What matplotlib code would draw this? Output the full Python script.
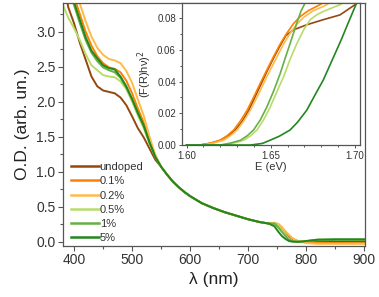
import matplotlib
matplotlib.use("Agg")
import matplotlib.pyplot as plt
from matplotlib.ticker import MultipleLocator

plt.rcParams['font.family'] = ['Liberation Sans', 'DejaVu Sans']

labels = ["undoped", "0.1%", "0.2%", "0.5%", "1%", "5%"]
colors = ["#94480f", "#ff8000", "#fdbb4a", "#b8dc6a", "#66b045", "#23861f"]

# ---- main panel: wavelength (nm) ----
lam = [381, 390, 400, 410, 420, 430, 440, 450, 460, 470, 480, 490, 500, 510, 520, 530,
       540, 550, 560, 570, 580, 590, 600, 620, 640, 660, 680, 700, 720, 735, 745, 752,
       758, 764, 770, 776, 782, 790, 800, 820, 850, 880, 900]

common_tail = [1.07, 0.96, 0.86, 0.78, 0.71, 0.65, 0.55, 0.48, 0.42, 0.37, 0.32, 0.28, 0.26]

od_undoped = [3.80, 3.35, 3.12, 2.84, 2.60, 2.36, 2.22, 2.16, 2.14, 2.12, 2.06, 1.95, 1.79, 1.62, 1.49, 1.33,
              1.17] + common_tail + [0.26, 0.23, 0.18, 0.13, 0.08, 0.04, 0.015, 0.0, 0.0, 0.0, 0.0, 0.0, 0.0]
od_01 = [4.00, 3.75, 3.50, 3.25, 3.00, 2.80, 2.65, 2.55, 2.49, 2.47, 2.42, 2.30, 2.12, 1.90, 1.70, 1.45,
         1.22] + common_tail + [0.27, 0.25, 0.20, 0.14, 0.09, 0.05, 0.02, 0.0, -0.01, -0.02, -0.02, -0.02, -0.02]
od_02 = [4.10, 3.90, 3.65, 3.40, 3.15, 2.93, 2.77, 2.67, 2.61, 2.59, 2.55, 2.44, 2.27, 2.03, 1.80, 1.50,
         1.24] + common_tail + [0.27, 0.25, 0.21, 0.15, 0.10, 0.05, 0.02, 0.0, -0.02, -0.03, -0.03, -0.03, -0.03]
od_05 = [3.38, 3.20, 3.05, 2.88, 2.68, 2.52, 2.45, 2.38, 2.36, 2.35, 2.29, 2.18, 2.00, 1.80, 1.62, 1.40,
         1.21] + common_tail + [0.26, 0.22, 0.17, 0.10, 0.04, 0.01, 0.0, 0.0, 0.01, 0.03, 0.03, 0.03, 0.03]
od_1 = [3.85, 3.60, 3.38, 3.12, 2.88, 2.70, 2.58, 2.49, 2.45, 2.42, 2.34, 2.20, 2.03, 1.83, 1.65, 1.41,
        1.21] + common_tail + [0.26, 0.20, 0.14, 0.08, 0.03, 0.01, 0.0, 0.0, 0.01, 0.02, 0.025, 0.025, 0.025]
od_5 = [3.90, 3.65, 3.42, 3.17, 2.92, 2.73, 2.62, 2.52, 2.48, 2.46, 2.36, 2.22, 2.04, 1.84, 1.66, 1.42,
        1.21] + common_tail + [0.22, 0.14, 0.08, 0.04, 0.01, 0.0, 0.0, 0.0, 0.01, 0.03, 0.035, 0.035, 0.035]

main_series = [od_undoped, od_01, od_02, od_05, od_1, od_5]

# ---- inset: Tauc plot (E in eV) ----
e_undoped = [1.600, 1.608, 1.615, 1.620, 1.625, 1.629, 1.633, 1.637, 1.6405, 1.6445, 1.648, 1.652, 1.6555,
             1.659, 1.6635, 1.6714, 1.6812, 1.6911, 1.700]
f_undoped = [0.0, 0.0, 0.0012, 0.003, 0.006, 0.0095, 0.0148, 0.022, 0.030, 0.039, 0.047, 0.0555, 0.0625,
             0.069, 0.0726, 0.0758, 0.079, 0.082, 0.0884]
e_01 = [1.600, 1.608, 1.614, 1.620, 1.624, 1.628, 1.632, 1.636, 1.640, 1.6438, 1.648, 1.6517, 1.6555,
        1.6596, 1.6635, 1.6675, 1.6725, 1.6773, 1.685]
f_01 = [0.0, 0.0, 0.0012, 0.003, 0.0058, 0.0095, 0.0152, 0.022, 0.0305, 0.039, 0.048, 0.0558, 0.0635,
        0.0706, 0.0765, 0.081, 0.0848, 0.0874, 0.092]
e_02 = [1.600, 1.610, 1.616, 1.622, 1.626, 1.630, 1.634, 1.6379, 1.642, 1.6458, 1.650, 1.6537, 1.6575,
        1.6616, 1.6655, 1.6694, 1.675, 1.6813, 1.689]
f_02 = [0.0, 0.0, 0.0012, 0.003, 0.0058, 0.0095, 0.0152, 0.022, 0.0305, 0.039, 0.048, 0.0556, 0.0635,
        0.0706, 0.0762, 0.0804, 0.0845, 0.0874, 0.092]
e_05 = [1.600, 1.622, 1.628, 1.6339, 1.638, 1.6418, 1.6457, 1.6497, 1.6536, 1.6576, 1.6615, 1.6655,
        1.6695, 1.6734, 1.6775, 1.6812, 1.691, 1.697]
f_05 = [0.0, 0.0, 0.0012, 0.003, 0.0058, 0.0095, 0.0158, 0.024, 0.0335, 0.043, 0.054, 0.064, 0.0725,
        0.079, 0.0822, 0.0842, 0.0884, 0.092]
e_1 = [1.600, 1.620, 1.626, 1.632, 1.636, 1.6398, 1.6438, 1.6477, 1.6517, 1.6556, 1.6585, 1.6615,
       1.6635, 1.6655, 1.668, 1.6714]
f_1 = [0.0, 0.0, 0.0012, 0.003, 0.0058, 0.0095, 0.0158, 0.024, 0.034, 0.045, 0.0545, 0.064, 0.0705,
       0.077, 0.0845, 0.0916]
e_5 = [1.600, 1.638, 1.645, 1.650, 1.655, 1.6615, 1.666, 1.6714, 1.676, 1.6812, 1.6852, 1.6892,
       1.6922, 1.6951, 1.698, 1.701]
f_5 = [0.0, 0.0, 0.001, 0.0032, 0.0055, 0.0095, 0.0145, 0.022, 0.031, 0.041, 0.0505, 0.060, 0.0672,
       0.0747, 0.082, 0.0895]

inset_series = [(e_undoped, f_undoped), (e_01, f_01), (e_02, f_02),
                (e_05, f_05), (e_1, f_1), (e_5, f_5)]

spine_c = "#555555"
text_c = "#333333"

fig = plt.figure(figsize=(3.79, 2.97), dpi=100)
ax = fig.add_axes([63 / 379, 1 - 245.7 / 297, (365 - 63) / 379, (245.7 - 2.7) / 297])

for y, c, lab in zip(main_series, colors, labels):
    ax.plot(lam, y, color=c, lw=1.4, label=lab)

ax.set_xlim(381, 901)
ax.set_ylim(-0.057, 3.414)
ax.xaxis.set_major_locator(MultipleLocator(100))
ax.xaxis.set_minor_locator(MultipleLocator(50))
ax.yaxis.set_major_locator(MultipleLocator(0.5))
ax.yaxis.set_minor_locator(MultipleLocator(0.25))
ax.yaxis.set_major_formatter(matplotlib.ticker.FormatStrFormatter('%.1f'))
ax.tick_params(which='major', direction='out', length=3.5, width=0.8, color=spine_c,
               labelsize=10, labelcolor=text_c, pad=2)
ax.tick_params(which='minor', direction='out', length=2, width=0.8, color=spine_c)
for s in ax.spines.values():
    s.set_color(spine_c)
    s.set_linewidth(0.9)
ax.set_xlabel("λ (nm)", fontsize=12.5, color="#222222", labelpad=3)
ax.set_ylabel("O.D. (arb. un.)", fontsize=12.5, color="#222222", labelpad=4)

leg = ax.legend(loc='lower left', bbox_to_anchor=(0.0, -0.022), frameon=False, fontsize=8,
                handlelength=2.5, handletextpad=0.1, labelspacing=0.38, borderaxespad=0.4,
                borderpad=0.3)
for t in leg.get_texts():
    t.set_color(text_c)
for h in leg.get_lines():
    h.set_linewidth(1.8)

# inset
ins = fig.add_axes([181.5 / 379, 1 - 145.5 / 297, (359.5 - 181.5) / 379, (145.5 - 2.7) / 297])
for (ex, fy), c in zip(inset_series, colors):
    ins.plot(ex, fy, color=c, lw=1.2)
ins.set_xlim(1.597, 1.7027)
ins.set_ylim(-0.0003, 0.0897)
ins.xaxis.set_major_locator(MultipleLocator(0.05))
ins.xaxis.set_minor_locator(MultipleLocator(0.01))
ins.yaxis.set_major_locator(MultipleLocator(0.02))
ins.yaxis.set_minor_locator(MultipleLocator(0.01))
ins.xaxis.set_major_formatter(matplotlib.ticker.FormatStrFormatter('%.2f'))
ins.yaxis.set_major_formatter(matplotlib.ticker.FormatStrFormatter('%.2f'))
ins.tick_params(which='major', direction='out', length=2.5, width=0.7, color=spine_c,
                labelsize=7, labelcolor=text_c, pad=1.5)
ins.tick_params(which='minor', direction='out', length=1.5, width=0.7, color=spine_c)
for s in ins.spines.values():
    s.set_color(spine_c)
    s.set_linewidth(0.9)
ins.set_xlabel("E (eV)", fontsize=8, color=text_c, labelpad=1)
ins.set_ylabel("(F(R)hν)$^2$", fontsize=8, color=text_c, labelpad=2)

fig.savefig("out.png", dpi=100)
